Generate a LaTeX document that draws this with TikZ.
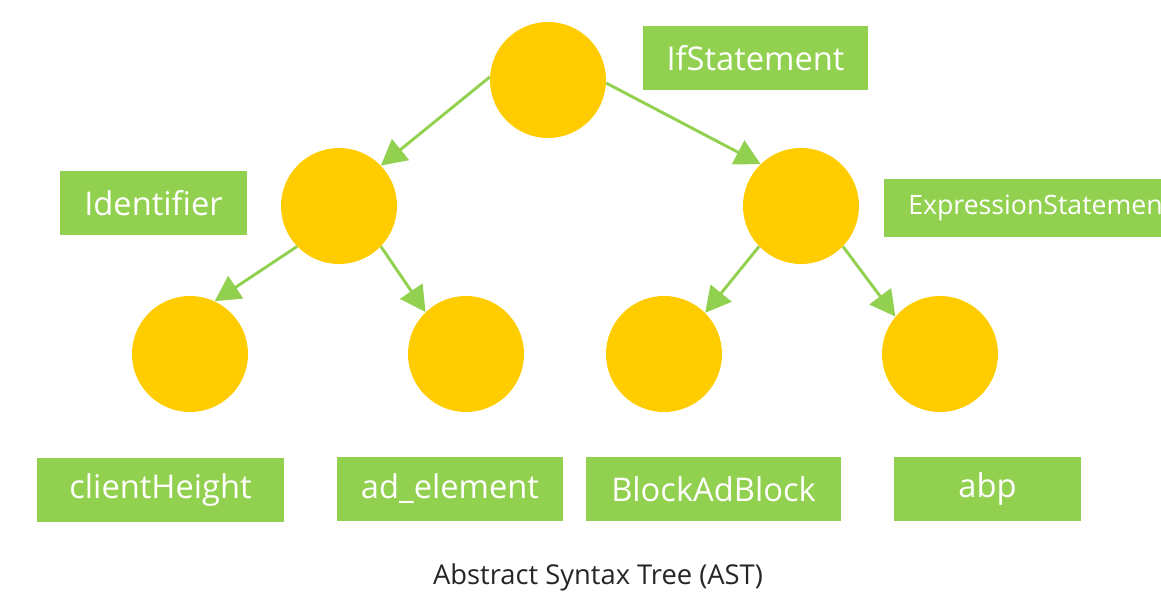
\documentclass[tikz,border=0pt]{standalone}
\usepackage{fontspec}
\setmainfont{Open Sans}
\usetikzlibrary{arrows.meta,positioning}
\definecolor{gul}{HTML}{FFCC00}
\definecolor{groen}{HTML}{92D050}
\definecolor{mork}{HTML}{262626}
\tikzset{
    >={Triangle[length=19pt,width=20pt]},
    knude/.style={
           circle,
           fill=gul,
           minimum size=87pt,
           inner sep=0pt},
    etiket/.style={
           fill=groen,
           text=white,
           minimum width=#1*0.75pt,
           minimum height=48pt,
           inner sep=0pt,
           font=\fontsize{24.5pt}{29pt}\selectfont},
    kant/.style={
           ->,
           draw=groen,
           line width=2.2pt}
}

\begin{document}
\begin{tikzpicture}[x=0.75pt,y=-0.75pt]
          \useasboundingbox (0,0) rectangle (1161,595);
          \clip (0,0) rectangle (1161,595);
          % the tree
          \node[knude](rod) at (548,80) {};
          \node[knude](ident) at (339,206) {};
          \node[knude](expr) at (801,206) {};
          \node[knude](client) at (190,354) {};
          \node[knude](adel) at (466,354) {};
          \node[knude](block) at (664,354) {};
          \node[knude](abp) at (940,354) {};
          \draw[kant] (rod.177) -- (ident.44);
          \draw[kant] (rod.-3) -- (expr.134);
          \draw[kant] (ident.224) -- (client.65);
          \draw[kant] (ident.-44) -- (adel.134);
          \draw[kant] (expr.224) -- (block.45);
          \draw[kant] (expr.-44) -- (abp.140);
          % labels
          \node[etiket=225](lrod) at (755.5,58) {IfStatement};
          \node[etiket=187](lident) at (153.5,203) {Identifier};
          \node[etiket=320, minimum height=43.5pt, anchor=west, font=\fontsize{20pt}{24pt}\selectfont, text width=216pt, align=left, inner xsep=18pt](lexpr) at (884,208) {ExpressionStatement};
          \node[etiket=247](lclient) at (160.5,490) {clientHeight};
          \node[etiket=226](ladel) at (450,489) {ad\_element};
          \node[etiket=255](lblock) at (713.5,489) {BlockAdBlock};
          \node[etiket=187](labp) at (987.5,489) {abp};
          \node[text=mork, font=\fontsize{20.5pt}{24pt}\selectfont](titel) at (598,577) {Abstract Syntax Tree (AST)};
\end{tikzpicture}
\end{document}
